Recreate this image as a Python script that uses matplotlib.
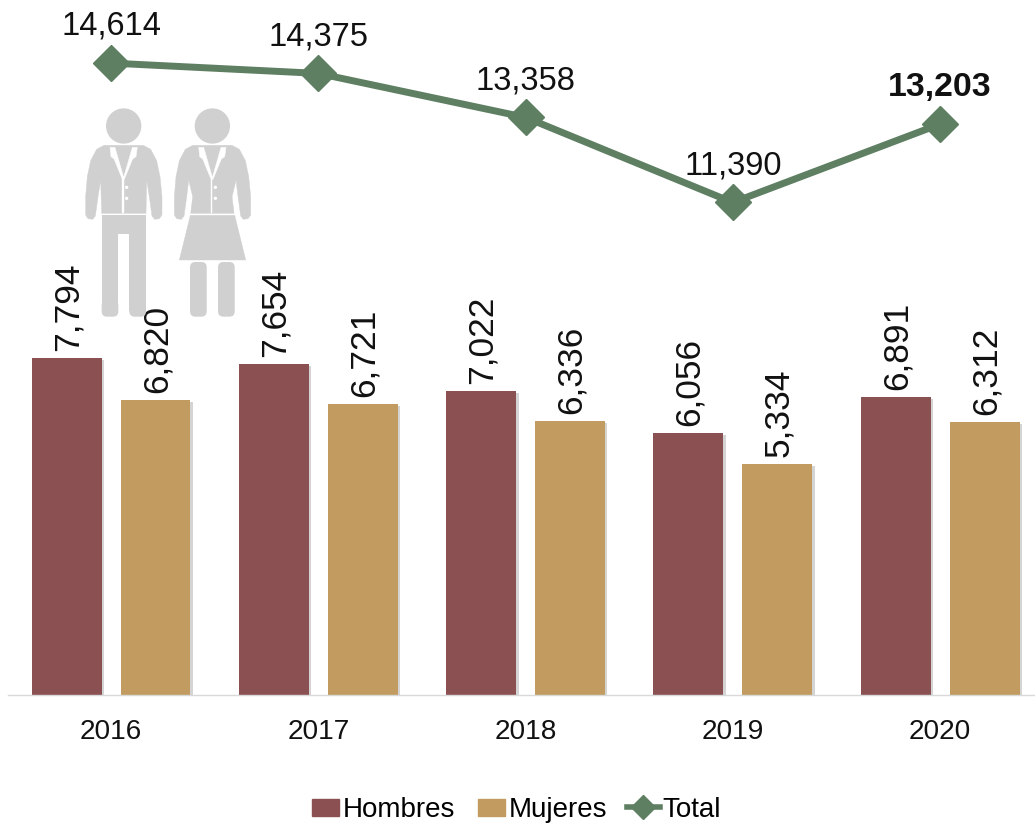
import matplotlib
matplotlib.use("Agg")
import matplotlib.pyplot as plt
import matplotlib.patheffects as pe
from matplotlib.lines import Line2D
from matplotlib.patches import Circle, FancyBboxPatch, Patch, Polygon
from matplotlib.transforms import Affine2D
import numpy as np

plt.rcParams["font.family"] = ["Liberation Sans", "DejaVu Sans"]

# Data
years = ["2016", "2017", "2018", "2019", "2020"]
hombres = [7794, 7654, 7022, 6056, 6891]
mujeres = [6820, 6721, 6336, 5334, 6312]
total = [14614, 14375, 13358, 11390, 13203]

# Colours
RED = "#8B5152"
GOLD = "#C19B5F"
GREEN = "#5E7F62"
FIGURE = "#D0D0D0"

W, H = 1035, 823


def drawPerson(fig, dx, female):
    # picture coords are from a 3x crop at (60, 90), y going down
    tr = Affine2D().scale(1 / 3, -1 / 3).translate(60 + dx, H - 90)
    white = "white"

    def poly(pts, colour, lw=0.3):
        fig.add_artist(Polygon(pts, closed=True, fc=colour, ec=colour, lw=lw, transform=tr))

    def roundBar(x0, y0, x1, y1):
        fig.add_artist(FancyBboxPatch((x0, y0), x1 - x0, y1 - y0,
                                      boxstyle="round,pad=0,rounding_size=16",
                                      fc=FIGURE, ec=FIGURE, lw=0, transform=tr))

    fig.add_artist(Circle((191, 108), 53, fc=FIGURE, ec="none", transform=tr))

    if female:
        torsoR = [(262, 270), (250, 320), (256, 370)]
        torsoL = [(126, 370), (132, 320), (120, 270)]
    else:
        torsoR = [(260, 270), (258, 370)]
        torsoL = [(125, 370), (122, 270)]
    body = [(132, 166), (250, 166), (272, 178), (290, 212), (300, 260), (306, 320), (306, 375),
            (298, 386), (284, 388), (276, 378), (268, 320)]
    body += torsoR + torsoL
    body += [(114, 320), (106, 378), (98, 388), (84, 386), (77, 375), (77, 320), (82, 260),
             (92, 212), (110, 178)]
    poly(body, FIGURE)

    # lapels and front seam
    poly([(150, 172), (165, 172), (191, 262), (217, 172), (232, 172), (228, 200), (218, 207),
          (193, 268), (187, 268), (162, 207), (153, 200)], white)
    poly([(187, 262), (191, 262), (191, 370), (187, 370)], white)
    for by in (292, 325):
        fig.add_artist(Circle((200, by), 5, fc=white, ec="none", transform=tr))

    if female:
        poly([(125, 376), (258, 376), (291, 510), (92, 510)], FIGURE)
        roundBar(124, 516, 174, 680)
        roundBar(208, 516, 258, 680)
    else:
        poly([(125, 376), (258, 376), (258, 664), (208, 664), (208, 432), (175, 432), (175, 664), (125, 664)],
             FIGURE, lw=0)
        roundBar(125, 630, 175, 680)
        roundBar(208, 630, 258, 680)


fig = plt.figure(figsize=(W / 100, H / 100), dpi=100)
ax = fig.add_axes([8 / W, 1 - 695 / H, (W - 8) / W, 695 / H])
ax.set_xlim(-0.497, 4.458)
ax.set_ylim(0, 16073)

x = np.arange(len(years))
offset = 0.2146
barW = 0.3375
shadow = [pe.SimplePatchShadow(offset=(1.8, -1.2), shadow_rgbFace="#aaaaaa", alpha=0.5), pe.Normal()]

bars1 = ax.bar(x - offset, hombres, barW, color=RED, path_effects=shadow, zorder=2)
bars2 = ax.bar(x + offset, mujeres, barW, color=GOLD, path_effects=shadow, zorder=2)
ax.plot(x, total, color=GREEN, lw=5, marker="D", ms=18, mec=GREEN, zorder=3,
        solid_joinstyle="round")

for bars, vals in ((bars1, hombres), (bars2, mujeres)):
    for b, v in zip(bars, vals):
        ax.annotate(f"{v:,}", (b.get_x() + b.get_width() / 2, v), xytext=(1, 5),
                    textcoords="offset points", rotation=90, ha="center", va="bottom",
                    fontsize=25.5, color="#111111", zorder=4)

for i, v in enumerate(total):
    bold = i == len(total) - 1
    ax.annotate(f"{v:,}", (x[i], v), xytext=(0, 26.5), textcoords="offset points",
                ha="center", va="center", fontsize=24.4 if bold else 23.5, color="#111111",
                fontweight="bold" if bold else "normal", zorder=4, annotation_clip=False)

ax.set_xticks(x)
ax.set_xticklabels(years, fontsize=20.2, color="#111111")
ax.tick_params(axis="x", length=0, pad=17)
ax.set_yticks([])
for side in ("top", "left", "right"):
    ax.spines[side].set_visible(False)
ax.spines["bottom"].set_color("#D9D9D9")
ax.spines["bottom"].set_linewidth(1)
ax.patch.set_alpha(0)

drawPerson(fig, 0, False)
drawPerson(fig, 88.7, True)

legY = 1 - 810 / H
leg1 = fig.legend(handles=[Patch(color=RED, label="Hombres"), Patch(color=GOLD, label="Mujeres")],
                  loc="center left", bbox_to_anchor=(312 / W, legY), ncol=2, frameon=False,
                  fontsize=20, handlelength=0.97, handleheight=0.55, handletextpad=0.15,
                  columnspacing=0.8, borderpad=0, borderaxespad=0)
leg2 = fig.legend(handles=[Line2D([], [], color=GREEN, lw=4, marker="D", ms=12, mec=GREEN, label="Total")],
                  loc="center left", bbox_to_anchor=(627 / W, legY), frameon=False,
                  fontsize=20, handlelength=1.17, handletextpad=0.1, borderpad=0, borderaxespad=0)

fig.savefig("out.png", dpi=100, facecolor="white")
